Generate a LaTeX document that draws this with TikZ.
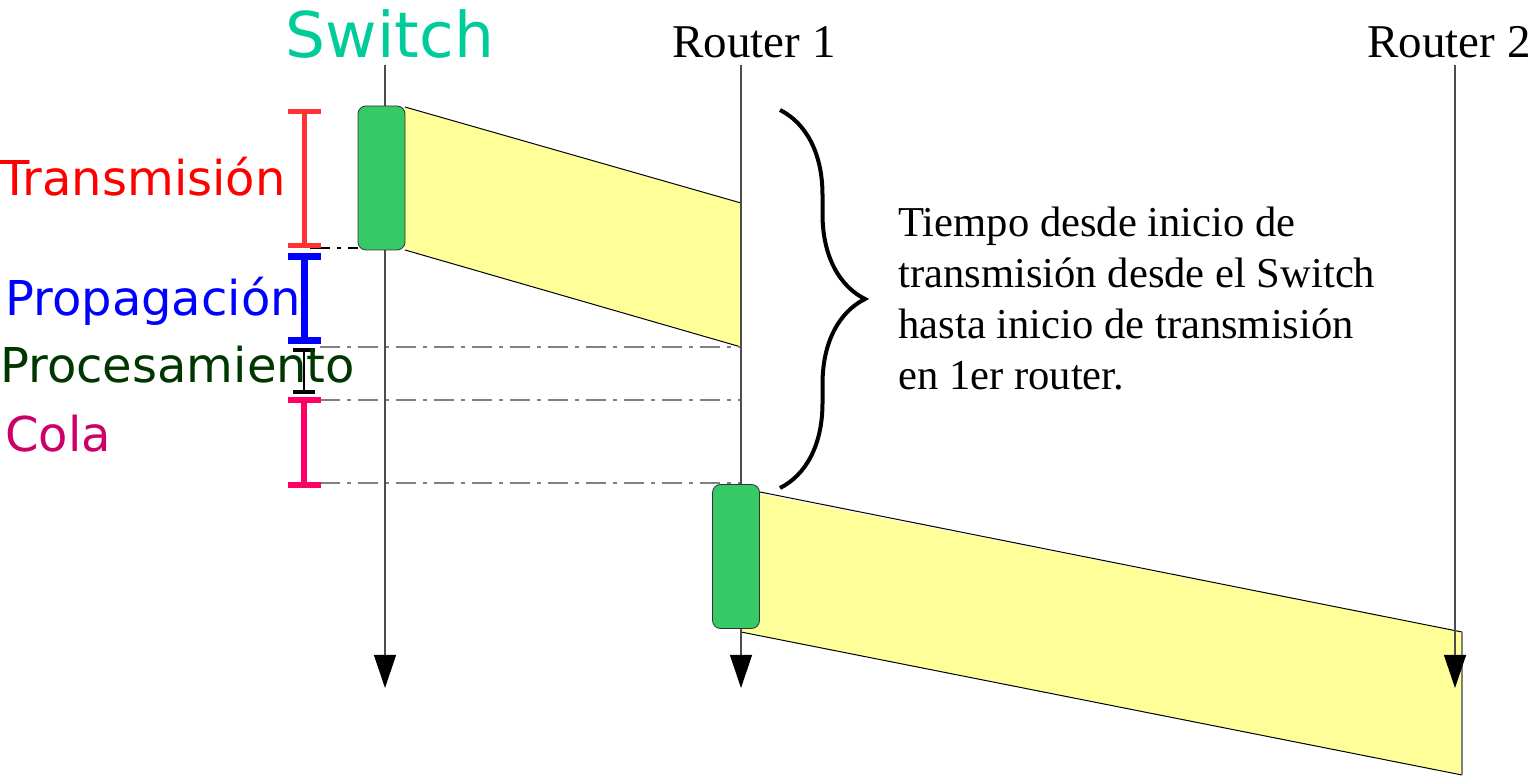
\documentclass[tikz,border=0pt]{standalone}
\usepackage{fontspec}
\setmainfont{Liberation Serif}
\newfontfamily\dejavu{DejaVu Sans}
\usepackage{tikz}
\definecolor{swgreen}{RGB}{0,204,153}
\definecolor{pktgreen}{RGB}{54,202,103}
\definecolor{pktyellow}{RGB}{255,255,153}
\definecolor{txred}{RGB}{255,51,51}
\definecolor{prgreen}{RGB}{0,55,0}
\definecolor{colatext}{RGB}{204,0,102}
\definecolor{colabar}{RGB}{255,0,102}
\usetikzlibrary{arrows.meta,decorations.pathreplacing}

\begin{document}
\begin{tikzpicture}[x=0.5pt,y=-0.5pt,
    packet/.style={draw=black!80, fill=pktgreen, rounded corners=4pt, minimum width=23.5pt, minimum height=72pt, inner sep=0pt},
    lifeline/.style={black!70, line width=0.6pt, -{Triangle[length=16.5pt,width=11pt,color=black]}},
    guide/.style={gray, line width=0.7pt, dash pattern=on 10pt off 3.5pt on 2pt off 3.5pt},
    delay/.style={font=\dejavu\fontsize{24}{28}\selectfont, anchor=base west, inner sep=0pt},
    router/.style={font=\fontsize{23.5}{28}\selectfont, anchor=base, inner sep=0pt}]
    \useasboundingbox (0,0) rectangle (1536,779);

    % Packets travelling on the link
    \fill[pktyellow] (405,107) -- (741,203) -- (741,347) -- (405,250) -- cycle;
    \draw[line width=0.5pt] (405,107) -- (741,203);
    \draw[line width=0.5pt] (405,250) -- (741,347);
    \fill[pktyellow] (741,490) -- (1462,632) -- (1462,775) -- (741,632) -- cycle;
    \draw[line width=0.5pt] (760,492) -- (1462,632);
    \draw[line width=0.5pt] (741,632) -- (1462,775);
    \draw[gray, line width=0.7pt] (1462,632) -- (1462,775);

    % Dash-dot guides
    \coordinate (g0) at (310,248);
    \draw[guide, black] (g0) -- (358,248);
    \foreach \y/\n in {347/g1, 400/g2, 483/g3} {
        \coordinate (\n a) at (320,\y);
        \coordinate (\n b) at (741,\y);
        \draw[guide] (\n a) -- (\n b);
    }

    % Time lines
    \node[font=\dejavu\fontsize{31.5}{36}\selectfont, text=swgreen, anchor=base, inner sep=0pt] (sw) at (390,58) {Switch};
    \node[router] (ra) at (754,58) {Router 1};
    \node[router] (rb) at (1449,58) {Router 2};
    \foreach \x/\n in {385/sw, 741/ra, 1455/rb} {
        \coordinate (\n top) at (\x,65);
        \coordinate (\n end) at (\x,688);
        \draw[lifeline] (\n top) -- (\n end);
    }

    \node[packet] (pk1) at (381.5,178) {};
    \node[packet] (pk2) at (736,556.5) {};

    % Delay intervals
    \draw[txred, line width=2.5pt, {Bar[width=16.5pt]}-{Bar[width=16.5pt]}] (304,109) -- (304,248);
    \draw[blue, line width=3.5pt, {Bar[width=16.5pt]}-{Bar[width=16.5pt]}] (304,253) -- (304,344);
    \draw[black, line width=0.6pt, {Bar[width=11pt,line width=1.8pt]}-{Bar[width=11pt,line width=1.8pt]}] (304,348) -- (304,394);
    \draw[colabar, line width=3pt, {Bar[width=16.5pt]}-{Bar[width=16.5pt]}] (304,397) -- (304,488);

    \node[delay, text=red] (tx) at (0,196) {Transmisión};
    \node[delay, text=blue] (prop) at (5,316) {Propagación};
    \node[delay, text=prgreen] (proc) at (0,383) {Procesamiento};
    \node[delay, text=colatext] (cola) at (5,452) {Cola};

    % Total time
    \draw[line width=2pt, decorate, decoration={brace, amplitude=42.5pt}] (780,110) -- (780,488);
    \node[font=\fontsize{21.3}{25.5}\selectfont, align=left, anchor=north west, inner sep=0pt] (nota) at (898,207)
        {Tiempo desde inicio de\\transmisión desde el Switch\\hasta inicio de transmisión\\en 1er router.};
\end{tikzpicture}
\end{document}
